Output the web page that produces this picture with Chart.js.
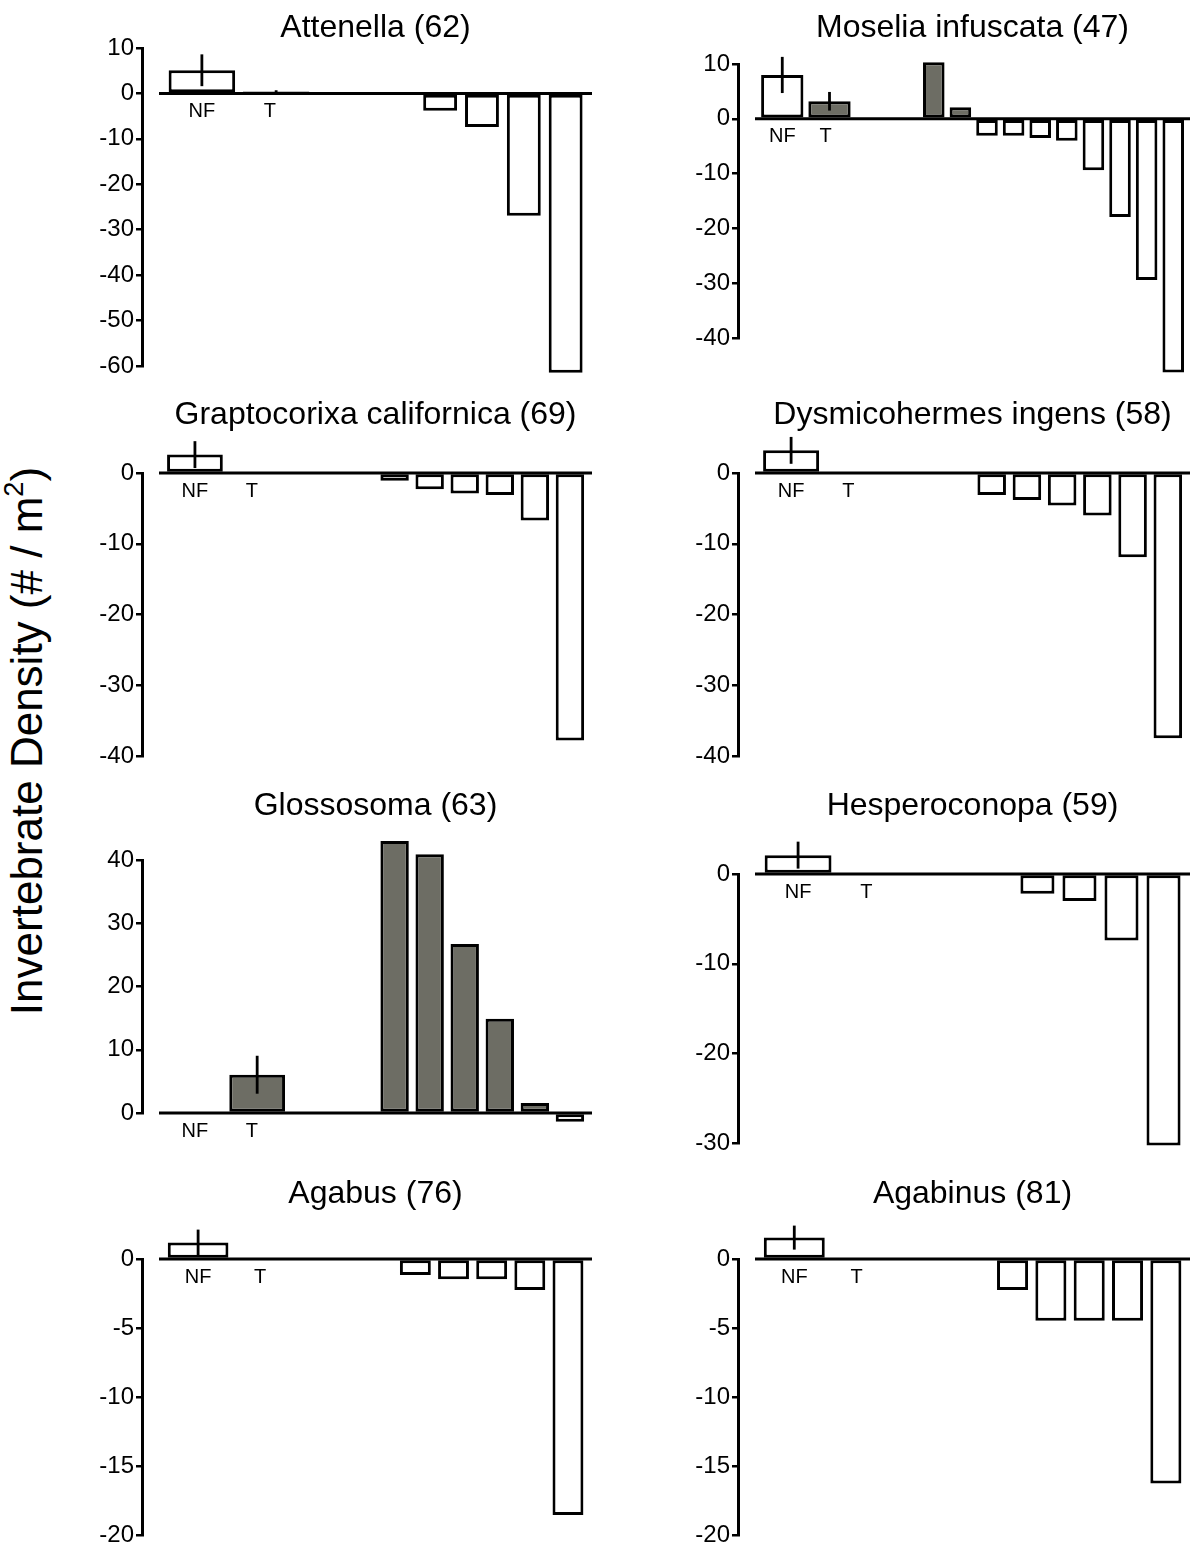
<!DOCTYPE html>
<html>
<head>
<meta charset="utf-8">
<script src="https://cdn.jsdelivr.net/npm/chart.js@4.4.0/dist/chart.umd.min.js"></script>
<style>
  html, body { margin: 0; padding: 0; background: #fff; overflow: hidden; width: 1191px; height: 1558px; }
  canvas { position: absolute; }
  #ylab {
    position: absolute; left: 27px; top: 741px;
    transform: translate(-50%, -50%) rotate(-90deg);
    font: 44px Arial, "Liberation Sans", sans-serif; white-space: nowrap; color: #000;
  }
  #ylab sup { font-size: 0.62em; line-height: 0; vertical-align: 0.7em; }
</style>
</head>
<body>
<div id="ylab">Invertebrate Density (# / m<sup>2</sup>)</div>
<script>
// ---------------- DATA ----------------
const panelTitles = [
  'Attenella (62)', 'Moselia infuscata (47)',
  'Graptocorixa californica (69)', 'Dysmicohermes ingens (58)',
  'Glossosoma (63)', 'Hesperoconopa (59)',
  'Agabus (76)', 'Agabinus (81)'
];
const wideLabels = ['NF', 'T'];
const nfValues = [5.1, 8.0, 2.6, 3.2, 0, 2.1, 1.2, 1.55];
const nfErrors = [3.5, 3.3, 1.9, 1.9, 0, 1.5, 0.93, 0.87];
const tValues  = [0.4, 3.2, 0, 0, 6.05, 0, 0, 0];
const tErrors  = [0.3, 1.7, 0, 0, 3.0, 0, 0, 0];

const attenellaBars     = [-3.8, -7.4, -26.9, -61.5];
const moseliaBars       = [10.3, 2.1, -3.1, -3.1, -3.5, -4.0, -9.4, -17.9, -29.4, -46.3];
const graptocorixaBars  = [-1.1, -2.3, -2.9, -3.1, -6.7, -37.8];
const dysmicohermesBars = [-3.1, -3.8, -4.6, -6.0, -11.9, -37.5];
const glossosomaBars    = [43.0, 40.9, 26.7, 14.9, 1.6, -1.4];
const hesperoconopaBars = [-2.2, -3.0, -7.4, -30.2];
const agabusBars        = [-1.16, -1.47, -1.47, -2.25, -18.55];
const agabinusBars      = [-2.25, -4.47, -4.47, -4.47, -16.26];
const panelBars = [attenellaBars, moseliaBars, graptocorixaBars, dysmicohermesBars,
                   glossosomaBars, hesperoconopaBars, agabusBars, agabinusBars];

const yMin  = [-60, -40, -40, -40, 0, -30, -20, -20];
const yMax  = [10, 10, 0, 0, 40, 0, 0, 0];
const yStep = [10, 10, 10, 10, 10, 10, 5, 5];

// ---------------- LAYOUT / STYLE ----------------
const FONT = 'Arial, "Liberation Sans", sans-serif';
const GREY = '#6d6d64';
const SLOT = { nf: 1.025, t: 2.8, firstNarrow: 6.72, end: 6.35, nfLabel: 1.025, tLabel: 2.65 };
const AXIS_W = 72, GAP = 17;
const cols = [ { left: 70, width: 540, padRight: 18 }, { left: 666, width: 525, padRight: 1 } ];
const rows = [
  { top: 0,    height: 385, titleY: 28, pads: [[48, 19], [64, 47]] },
  { top: 388,  height: 385, titleY: 27, pads: [[85, 17], [85, 17]] },
  { top: 778,  height: 382, titleY: 28, pads: [[82, 47], [96, 14]] },
  { top: 1163, height: 395, titleY: 31, pads: [[96, 23], [96, 23]] }
];

function makeDecor(p) {
  return {
    id: 'decor' + p,
    afterDatasetsDraw(chart) {
      const { ctx } = chart;
      const xs = chart.scales.x, ys = chart.scales.y;
      const x0 = xs.getPixelForValue(0), x1 = xs.getPixelForValue(xs.max);
      const yz = ys.getPixelForValue(0);
      ctx.save();
      ctx.strokeStyle = '#000';
      ctx.lineWidth = 3;
      ctx.beginPath(); ctx.moveTo(x0, yz); ctx.lineTo(x1, yz); ctx.stroke();
      // error bars on NF / T
      const meta = chart.getDatasetMeta(0);
      const vals = [nfValues[p], tValues[p]], errs = [nfErrors[p], tErrors[p]];
      ctx.lineWidth = 2.8;
      errs.forEach((e, i) => {
        if (!e) return;
        const bx = meta.data[i].x;
        ctx.beginPath();
        ctx.moveTo(bx, ys.getPixelForValue(vals[i] - e));
        ctx.lineTo(bx, ys.getPixelForValue(vals[i] + e));
        ctx.stroke();
      });
      // NF / T labels
      ctx.fillStyle = '#000';
      ctx.textAlign = 'center';
      ctx.textBaseline = 'middle';
      ctx.font = '20px ' + FONT;
      ctx.fillText(wideLabels[0], xs.getPixelForValue(SLOT.nfLabel), yz + 18);
      ctx.fillText(wideLabels[1], xs.getPixelForValue(SLOT.tLabel), yz + 18);
      // title
      ctx.font = '32px ' + FONT;
      ctx.fillText(panelTitles[p], (x0 + x1) / 2, chart.options.titleY);
      ctx.restore();
    }
  };
}

panelTitles.forEach((title, p) => {
  const col = cols[p % 2], row = rows[Math.floor(p / 2)];
  const [padTop, padBottom] = row.pads[p % 2];
  const bars = panelBars[p];
  const xMax = bars.length + SLOT.end;
  const plotW = col.width - AXIS_W - col.padRight;
  const xMin = -GAP * xMax / (plotW - GAP);

  const cv = document.createElement('canvas');
  cv.width = col.width; cv.height = row.height;
  cv.style.left = col.left + 'px'; cv.style.top = row.top + 'px';
  cv.style.width = col.width + 'px'; cv.style.height = row.height + 'px';
  document.body.appendChild(cv);

  const wideData = [
    { x: SLOT.nf, y: nfValues[p] },
    { x: SLOT.t,  y: tValues[p] }
  ];
  const narrowData = bars.map((v, k) => ({ x: SLOT.firstNarrow + k, y: v }));

  new Chart(cv, {
    type: 'bar',
    data: {
      datasets: [
        {
          label: 'NF / T',
          data: wideData,
          backgroundColor: ['#ffffff', tValues[p] > 0 ? GREY : '#ffffff'],
          borderColor: '#000', borderWidth: 3, borderSkipped: false,
          grouped: false, barPercentage: 1.59, categoryPercentage: 1, clip: false
        },
        {
          label: 'bars',
          data: narrowData,
          backgroundColor: bars.map(v => v > 0 ? GREY : '#ffffff'),
          borderColor: '#000', borderWidth: 3, borderSkipped: false,
          grouped: false, barPercentage: 0.81, categoryPercentage: 1, clip: false
        }
      ]
    },
    options: {
      responsive: false, animation: false, devicePixelRatio: 1,
      titleY: row.titleY,
      layout: { padding: { top: padTop, bottom: padBottom, left: 0, right: col.padRight } },
      plugins: { legend: { display: false }, tooltip: { enabled: false }, title: { display: false } },
      scales: {
        x: {
          type: 'linear', display: false, offset: false, min: xMin, max: xMax,
          ticks: { stepSize: 1, includeBounds: false }, grid: { display: false }
        },
        y: {
          type: 'linear', min: yMin[p], max: yMax[p],
          ticks: { stepSize: yStep[p], color: '#000', padding: 2, font: { size: 24, family: FONT } },
          grid: { drawOnChartArea: false, drawTicks: true, tickLength: 6, color: '#000', lineWidth: 2.5 },
          border: { display: true, color: '#000', width: 3 },
          afterFit(s) { s.width = AXIS_W; }
        }
      }
    },
    plugins: [makeDecor(p)]
  });
});
</script>
</body>
</html>
